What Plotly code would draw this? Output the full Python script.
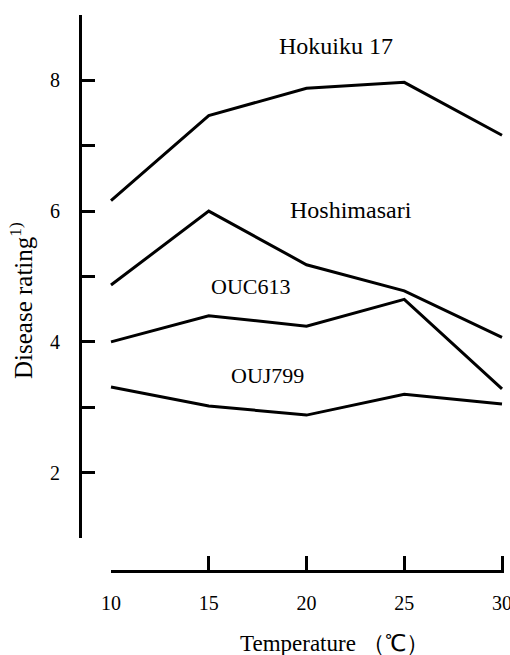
import plotly.graph_objects as go

temps = [10, 15, 20, 25, 30]
hokuiku17 = [6.16, 7.46, 7.88, 7.97, 7.16]
hoshimasari = [4.87, 6.0, 5.18, 4.78, 4.07]
ouc613 = [4.0, 4.40, 4.24, 4.65, 3.28]
ouj799 = [3.31, 3.02, 2.88, 3.20, 3.05]

series = [("Hokuiku 17", hokuiku17), ("Hoshimasari", hoshimasari),
          ("OUC613", ouc613), ("OUJ799", ouj799)]
# label positions (data coords) and font sizes
label_pos = {"Hokuiku 17": (21.5, 8.52, 24), "Hoshimasari": (22.28, 6.02, 24),
             "OUC613": (17.16, 4.84, 22), "OUJ799": (18.03, 3.48, 22)}

y_tickvals = [1, 2, 3, 4, 5, 6, 7, 8, 9]
y_ticktext = ["", "2", "", "4", "", "6", "", "8", ""]
x_tickvals = [10, 15, 20, 25, 30]

FONT = "Liberation Serif"

OFF = 0  # body margin removed in post_script
W, H = 510, 655
# screen-pixel layout targets
YAX_X, X30, PLOT_R, PLOT_T, XAX_Y, YBOT = 82, 502, 508, 15, 571, 538
X10 = 111
L = YAX_X - OFF
T = PLOT_T - OFF
R = W - (PLOT_R - OFF)
B = H - (XAX_Y - OFF)
plot_w = W - L - R
plot_h = H - T - B
px_per_x = (X30 - X10) / 20.0
x_left = 10 - (X10 - YAX_X) / px_per_x
x_right = 30 + (PLOT_R - X30) / px_per_x
X2_END = 30.12
X2_START = 9.995


def px(sx):
    return (sx - YAX_X) / plot_w


def py(sy):
    return (XAX_Y - sy) / plot_h


fig = go.Figure()
for name, vals in series:
    fig.add_trace(go.Scatter(x=temps, y=vals, mode="lines", name=name,
                             line=dict(color="black", width=3),
                             showlegend=False, hoverinfo="skip"))
# invisible trace to attach the displayed x axis
fig.add_trace(go.Scatter(x=temps, y=ouj799, xaxis="x2", mode="markers",
                         marker=dict(opacity=0), showlegend=False, hoverinfo="skip"))

for name, _ in series:
    x, y, fs = label_pos[name]
    fig.add_annotation(x=x, y=y, xref="x", yref="y", text=name, showarrow=False,
                       font=dict(family=FONT, size=fs, color="black"),
                       xanchor="center", yanchor="middle")

ydom0 = py(YBOT)
fig.update_layout(
    width=W, height=H,
    margin=dict(l=L, r=R, t=T, b=B, autoexpand=False),
    plot_bgcolor="rgba(0,0,0,0)", paper_bgcolor="white",
    font=dict(family=FONT, color="black"),
    xaxis=dict(range=[x_left, x_right], visible=False, domain=[0, 1], automargin=False),
    xaxis2=dict(range=[X2_START, X2_END],
                domain=[px(X10 + (X2_START - 10) * px_per_x),
                        px(X30 + (X2_END - 30) * px_per_x)],
                anchor="free", position=0, automargin=False,
                tickvals=x_tickvals, ticks="inside", ticklen=14, tickwidth=3,
                tickcolor="black", showline=True, linewidth=3, linecolor="black",
                showgrid=False, zeroline=False, ticklabeloverflow="allow",
                tickfont=dict(family=FONT, size=20, color="black"),
                ticklabelstandoff=13),
    yaxis=dict(range=[1, 9], domain=[ydom0, 1.0], automargin=False,
               tickvals=y_tickvals, ticktext=y_ticktext,
               ticks="inside", ticklen=13, tickwidth=3, tickcolor="black",
               showline=True, linewidth=3, linecolor="black",
               showgrid=False, zeroline=False,
               tickfont=dict(family=FONT, size=20, color="black"),
               ticklabelstandoff=15),
)

fig.add_annotation(x=px(334), y=py(643), xref="paper", yref="paper",
                   text="Temperature （℃）", showarrow=False,
                   font=dict(family=FONT, size=23, color="black"),
                   xanchor="center", yanchor="middle")
fig.add_annotation(x=px(21), y=py(300), xref="paper", yref="paper",
                   text="Disease rating<sup>1)</sup>", showarrow=False, textangle=-90,
                   font=dict(family=FONT, size=25, color="black"),
                   xanchor="center", yanchor="middle")

fig.write_html("out.html", config={"displayModeBar": False},
               post_script="document.body.style.margin='0';document.body.style.overflow='hidden';")
